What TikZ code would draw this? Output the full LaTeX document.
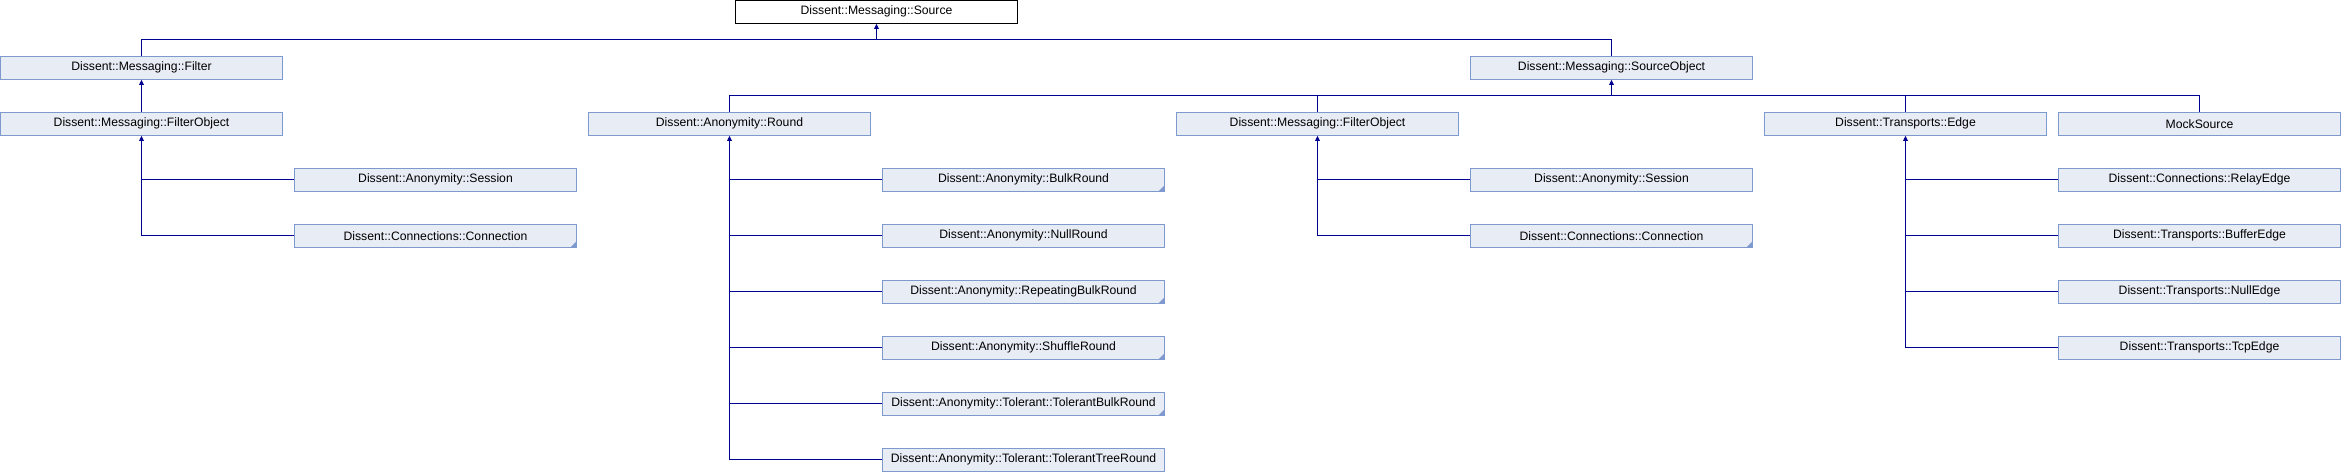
\documentclass[tikz,border=0pt]{standalone}
\usepackage{fontspec}
\setmainfont{Liberation Sans}
\usetikzlibrary{arrows.meta}
\definecolor{boxfill}{HTML}{E8ECF5}
\definecolor{boxline}{HTML}{7E99CD}
\definecolor{conn}{HTML}{000090}
\tikzset{
  cls/.style={draw=boxline, fill=boxfill, line width=1pt, minimum width=282pt, minimum height=23pt, inner sep=0pt, anchor=center, font=\fontsize{12.2}{14}\selectfont},
  mainbox/.style={cls, draw=black, fill=white},
  edge/.style={draw=conn, line width=1pt},
  inh/.style={edge, -{Triangle[length=5pt,width=4.5pt]}},
  cornermark/.style={fill=boxline}
}
\begin{document}
\begin{tikzpicture}[x=1pt,y=1pt]
\useasboundingbox (0,0) rectangle (2342,-472);
% nodes: column c -> x = 294c+141.5 ; row r -> y = -(56r+11.75)
\node[mainbox] (src) at (876.5,-11.75) {Dissent::Messaging::Source};
\node[cls] (filter) at (141.5,-67.75) {Dissent::Messaging::Filter};
\node[cls] (srcobj) at (1611.5,-67.75) {Dissent::Messaging::SourceObject};
\node[cls] (fo1) at (141.5,-123.75) {Dissent::Messaging::FilterObject};
\node[cls] (round) at (729.5,-123.75) {Dissent::Anonymity::Round};
\node[cls] (fo2) at (1317.5,-123.75) {Dissent::Messaging::FilterObject};
\node[cls] (edgecls) at (1905.5,-123.75) {Dissent::Transports::Edge};
\node[cls] (mock) at (2199.5,-123.75) {MockSource};
% children of FilterObject (left)
\node[cls] (sess1) at (435.5,-179.75) {Dissent::Anonymity::Session};
\node[cls] (conn1) at (435.5,-235.75) {Dissent::Connections::Connection};
% children of Round
\node[cls] (bulk) at (1023.5,-179.75) {Dissent::Anonymity::BulkRound};
\node[cls] (nullr) at (1023.5,-235.75) {Dissent::Anonymity::NullRound};
\node[cls] (rep) at (1023.5,-291.75) {Dissent::Anonymity::RepeatingBulkRound};
\node[cls] (shuf) at (1023.5,-347.75) {Dissent::Anonymity::ShuffleRound};
\node[cls] (tbulk) at (1023.5,-403.75) {Dissent::Anonymity::Tolerant::TolerantBulkRound};
\node[cls] (ttree) at (1023.5,-459.75) {Dissent::Anonymity::Tolerant::TolerantTreeRound};
% children of FilterObject (middle)
\node[cls] (sess2) at (1611.5,-179.75) {Dissent::Anonymity::Session};
\node[cls] (conn2) at (1611.5,-235.75) {Dissent::Connections::Connection};
% children of Edge
\node[cls] (relay) at (2199.5,-179.75) {Dissent::Connections::RelayEdge};
\node[cls] (buf) at (2199.5,-235.75) {Dissent::Transports::BufferEdge};
\node[cls] (nulle) at (2199.5,-291.75) {Dissent::Transports::NullEdge};
\node[cls] (tcp) at (2199.5,-347.75) {Dissent::Transports::TcpEdge};
% corner marks (classes with further subclasses)
\foreach \n in {conn1,conn2,bulk,rep,shuf,tbulk}
  \fill[cornermark] ([xshift=-0.5pt,yshift=0.5pt]\n.south east) -- ++(-6pt,0) -- ++(6pt,6pt) -- cycle;
% junctions
\coordinate (j0) at (876.5,-39.5);
\coordinate (j1) at (1611.5,-95.5);
% Source level
\draw[edge] (filter.north) |- (j0) -| (srcobj.north);
\draw[inh] (j0) -- (src.south);
% Filter -> FilterObject
\draw[inh] (fo1.north) -- (filter.south);
% SourceObject level
\draw[edge] (round.north) |- (j1) -| (mock.north);
\draw[edge] (fo2.north) -- (fo2.north |- j1);
\draw[edge] (edgecls.north) -- (edgecls.north |- j1);
\draw[inh] (j1) -- (srcobj.south);
% FilterObject (left) children
\draw[inh] (conn1.west) -| (fo1.south);
\draw[edge] (sess1.west) -- (sess1.west -| fo1.south);
% Round children
\draw[inh] (ttree.west) -| (round.south);
\foreach \n in {bulk,nullr,rep,shuf,tbulk}
  \draw[edge] (\n.west) -- (\n.west -| round.south);
% FilterObject (middle) children
\draw[inh] (conn2.west) -| (fo2.south);
\draw[edge] (sess2.west) -- (sess2.west -| fo2.south);
% Edge children
\draw[inh] (tcp.west) -| (edgecls.south);
\foreach \n in {relay,buf,nulle}
  \draw[edge] (\n.west) -- (\n.west -| edgecls.south);
\end{tikzpicture}
\end{document}
